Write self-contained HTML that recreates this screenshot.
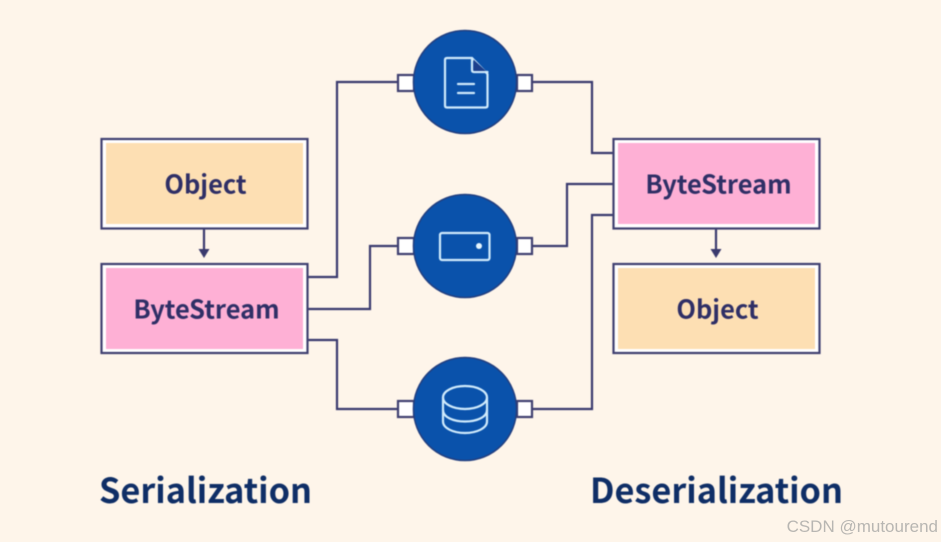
<!DOCTYPE html>
<html>
<head>
<meta charset="utf-8">
<style>
html,body{margin:0;padding:0;background:#fef5ea;}
svg{display:block;}
text{font-family:"Noto Sans CJK JP","Liberation Sans",sans-serif;}
.soft{filter:blur(0.45px);}
</style>
</head>
<body>
<svg width="941" height="542" viewBox="0 0 941 542" xmlns="http://www.w3.org/2000/svg">
<rect width="941" height="542" fill="#fef5ea"/>
<g class="soft">
<g fill="none" stroke="#3a3a6e" stroke-width="2.200">
  <path d="M308 277H337V82H398"/>
  <path d="M308 309H370V246H398"/>
  <path d="M308 340H337V409H398"/>
  <path d="M532 82H592V153H613"/>
  <path d="M532 246H567V184H613"/>
  <path d="M532 409H592V215H613"/>
  <path d="M204 229V252"/>
  <path d="M716 229V252"/>
</g>
<path d="M198.500 249H209.500L204 258Z" fill="#3a3a6e"/>
<path d="M710.500 249H721.500L716 258Z" fill="#3a3a6e"/>

<g fill="#fff" stroke="#3f3f70" stroke-width="2.200">
  <rect x="101.500" y="139" width="206" height="89.500"/>
  <rect x="101.500" y="264" width="206" height="89"/>
  <rect x="613.500" y="139" width="206" height="89.500"/>
  <rect x="613.500" y="264" width="206" height="89"/>
</g>
<rect x="106" y="143" width="197" height="81" fill="#fddfb3"/>
<rect x="106" y="268" width="197" height="81" fill="#feb0d5"/>
<rect x="618" y="143" width="197" height="81" fill="#feb0d5"/>
<rect x="618" y="268" width="197" height="81" fill="#fddfb3"/>

<g font-size="25.400" font-weight="700" fill="#2f2f66" text-anchor="middle">
  <text x="205.500" y="193.500">Object</text>
  <text x="206.500" y="318.500">ByteStream</text>
  <text x="718.500" y="193.500">ByteStream</text>
  <text x="717.500" y="318.500">Object</text>
</g>

<g fill="#fff" stroke="#3f3f70" stroke-width="2.200">
  <rect x="398" y="75" width="16" height="16"/>
  <rect x="517" y="75" width="15" height="16"/>
  <rect x="398" y="238" width="16" height="16"/>
  <rect x="517" y="238" width="15" height="16"/>
  <rect x="398" y="401" width="16" height="16"/>
  <rect x="517" y="401" width="15" height="16"/>
</g>

<g fill="#0a52ab" stroke="#223f80" stroke-width="1.500">
  <circle cx="465" cy="82" r="51.500"/>
  <circle cx="465" cy="246" r="51.500"/>
  <circle cx="465" cy="409" r="51.500"/>
</g>

<g fill="none" stroke="#cfeafc" stroke-width="2.200" stroke-linejoin="round" stroke-linecap="round">
  <path d="M447 58H472L487.500 74V105.500Q487.500 107.500 485.500 107.500H447Q445 107.500 445 105.500V60Q445 58 447 58Z"/>
  <path d="M472 58V70Q472 72 474 72H487.500"/>
  <path d="M458 84H474M458 93H474"/>
  <rect x="440" y="233" width="49.500" height="27" rx="2"/>
  <ellipse cx="465" cy="397.500" rx="22" ry="11.500"/>
  <path d="M443 397.500V421.500C443 428 453 433 465 433C477 433 487 428 487 421.500V397.500"/>
  <path d="M443 410C443 417 453 421.500 465 421.500C477 421.500 487 417 487 410"/>
</g>
<path d="M473.500 59.500L486 71H473.500Z" fill="#1c3f8c"/>
<circle cx="479" cy="246" r="3" fill="#e6f5fd"/>

<g font-size="34.300" font-weight="700" fill="#0f2e66">
  <text x="99" y="503">Serialization</text>
  <text x="590" y="503">Deserialization</text>
</g>
</g>
<text x="938" y="532" text-anchor="end" font-size="17" fill="#b8b6b2" style="font-family:'Liberation Sans',sans-serif">CSDN @mutourend</text>
</svg>
</body>
</html>
